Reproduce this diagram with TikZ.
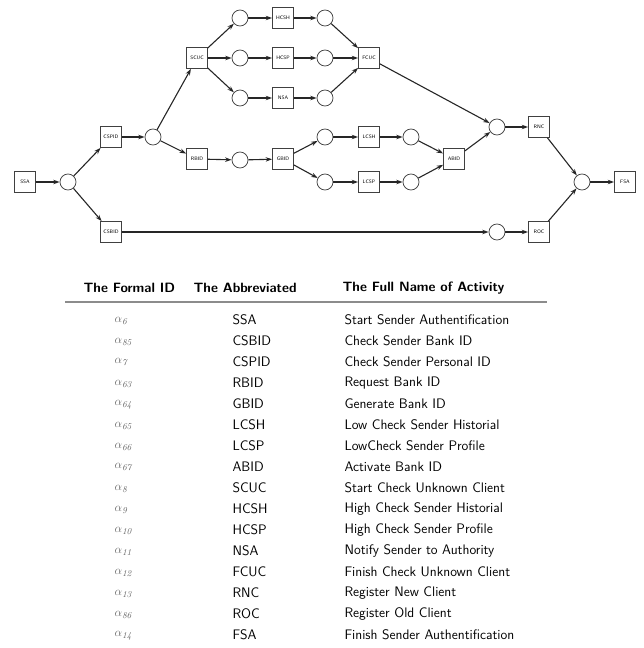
\documentclass[tikz,border=0pt]{standalone}
\usetikzlibrary{arrows.meta}
\begin{document}
\begin{tikzpicture}[x=1pt,y=-1pt,
  trans/.style={draw=black!75,line width=0.75pt,minimum size=21pt,inner sep=0pt,font=\sffamily\fontsize{5}{6}\selectfont},
  place/.style={draw=black!75,line width=0.75pt,circle,minimum size=16pt,inner sep=0pt},
  arc/.style={draw=black!85,line width=1.1pt,-{Stealth[length=6.5pt,width=4.5pt]}},
  hdr/.style={anchor=west,font=\sffamily\bfseries\fontsize{13.5}{15}\selectfont},
  cell/.style={anchor=west,font=\sffamily\fontsize{13.8}{15}\selectfont},
  fid/.style={anchor=west,text=black!60,font=\fontsize{12.5}{14}\selectfont}]
\useasboundingbox (0,0) rectangle (644,648);

% transitions
\node[trans] (SSA)   at (25,182)  {SSA};
\node[trans] (CSPID) at (111,137) {CSPID};
\node[trans] (CSBID) at (111,232) {CSBID};
\node[trans] (SCUC)  at (197,58)  {SCUC};
\node[trans] (RBID)  at (197,159) {RBID};
\node[trans] (HCSH)  at (283,18)  {HCSH};
\node[trans] (HCSP)  at (283,58)  {HCSP};
\node[trans] (NSA)   at (283,98)  {NSA};
\node[trans] (GBID)  at (283,159) {GBID};
\node[trans] (FCUC)  at (369,58)  {FCUC};
\node[trans] (LCSH)  at (369,137) {LCSH};
\node[trans] (LCSP)  at (369,182) {LCSP};
\node[trans] (ABID)  at (454,159) {ABID};
\node[trans] (RNC)   at (539,127) {RNC};
\node[trans] (ROC)   at (539,232) {ROC};
\node[trans] (FSA)   at (625,182) {FSA};

% places
\node[place] (p1)  at (68,182)  {};
\node[place] (p2)  at (153,137) {};
\node[place] (p3)  at (240,18)  {};
\node[place] (p4)  at (240,58)  {};
\node[place] (p5)  at (240,98)  {};
\node[place] (p6)  at (240,160) {};
\node[place] (p7)  at (325,18)  {};
\node[place] (p8)  at (325,58)  {};
\node[place] (p9)  at (325,98)  {};
\node[place] (p10) at (325,137) {};
\node[place] (p11) at (325,182) {};
\node[place] (p12) at (411,137) {};
\node[place] (p13) at (411,182) {};
\node[place] (p14) at (497,127) {};
\node[place] (p15) at (497,232) {};
\node[place] (p16) at (582,182) {};

% arcs
\foreach \a/\b in {SSA/p1, p1/CSPID, p1/CSBID, CSPID/p2, p2/SCUC, p2/RBID,
  SCUC/p3, SCUC/p4, SCUC/p5, p3/HCSH, p4/HCSP, p5/NSA, HCSH/p7, HCSP/p8, NSA/p9,
  p7/FCUC, p8/FCUC, p9/FCUC, FCUC/p14, RBID/p6, p6/GBID, GBID/p10, GBID/p11,
  p10/LCSH, p11/LCSP, LCSH/p12, LCSP/p13, p12/ABID, p13/ABID, ABID/p14,
  p14/RNC, RNC/p16, p16/FSA, CSBID/p15, p15/ROC, ROC/p16}
  \draw[arc] (\a) -- (\b);

% table
\node[hdr] (h1) at (80,288)  {The Formal ID};
\node[hdr] (h2) at (190,288) {The Abbreviated};
\node[hdr] (h3) at (339,288) {The Full Name of Activity};
\coordinate (rl) at (65,302);
\coordinate (rr) at (547,302);
\draw[black!45,line width=1.2pt] (rl) -- (rr);

\foreach [count=\i from 0] \f/\s/\n in {6/SSA/Start Sender Authentification,
  85/CSBID/Check Sender Bank ID, 7/CSPID/Check Sender Personal ID,
  63/RBID/Request Bank ID, 64/GBID/Generate Bank ID,
  65/LCSH/Low Check Sender Historial, 66/LCSP/LowCheck Sender Profile,
  67/ABID/Activate Bank ID, 8/SCUC/Start Check Unknown Client,
  9/HCSH/High Check Sender Historial, 10/HCSP/High Check Sender Profile,
  11/NSA/Notify Sender to Authority, 12/FCUC/Finish Check Unknown Client,
  13/RNC/Register New Client, 86/ROC/Register Old Client,
  14/FSA/Finish Sender Authentification}
{
  \node[fid]  (f\i) at (111,321+21*\i) {$\alpha_{\mathit{\f}}$};
  \node[cell] (s\i) at (229,320+21*\i) {\s};
  \node[cell] (n\i) at (341,320+21*\i) {\n};
}
\end{tikzpicture}
\end{document}
